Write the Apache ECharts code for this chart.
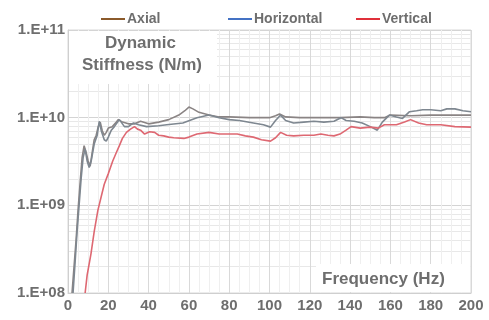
<!DOCTYPE html>
<html>
<head>
<meta charset="utf-8">
<script src="https://cdn.jsdelivr.net/npm/echarts@6/dist/echarts.min.js"></script>
<style>
  html, body { margin: 0; padding: 0; background: #fff; }
  #chart { width: 489px; height: 320px; }
</style>
</head>
<body>
<div id="chart"></div>
<script>
// 频率 (Hz) 与动刚度 (N/m)
const axialFreq = [2, 3, 4, 5, 6, 7, 8, 9, 10, 11, 12, 13, 14, 15, 16, 17, 18, 19, 20, 22,
  24, 25, 27, 30, 33, 36, 40, 45, 50, 55, 58, 60, 62, 65, 70, 75, 80, 90, 100, 103,
  105, 108, 115, 125, 135, 145, 152, 157, 160, 170, 180, 190, 200];
const axialVal = [1.0e8, 2.0e8, 4.0e8, 8.9e8, 1.8e9, 3.5e9, 4.8e9, 4.0e9, 3.2e9, 2.8e9,
  4.0e9, 5.6e9, 6.3e9, 7.9e9, 8.9e9, 7.1e9, 6.3e9, 6.8e9, 7.6e9, 7.9e9,
  8.9e9, 9.5e9, 8.9e9, 8.5e9, 8.5e9, 9.1e9, 8.5e9, 8.9e9, 9.5e9, 1.07e10,
  1.2e10, 1.32e10, 1.26e10, 1.15e10, 1.07e10, 1.02e10, 1.02e10, 1.0e10, 1.0e10, 1.05e10,
  1.1e10, 1.02e10, 1.0e10, 1.0e10, 1.0e10, 1.02e10, 1.0e10, 1.0e10, 1.07e10, 1.05e10,
  1.07e10, 1.07e10, 1.07e10];

const horizFreq = [2.5, 3.5, 4.5, 5.5, 6.5, 7.5, 8.5, 9.5, 10.5, 11.5, 13, 14.5, 15.5, 16.5, 18, 19, 20, 21.5, 23, 25.5,
  28, 30, 32.5, 35, 39, 45, 49, 57, 64, 70, 75, 80, 85, 92, 97, 100.5, 103, 105.5, 108, 112,
  117, 122, 127, 132, 135.5, 138, 142, 146, 150, 153.5, 156, 159.5, 163, 166, 169.5, 173, 176, 180, 185, 188,
  192, 196, 200];
const horizVal = [1.0e8, 2.2e8, 5.0e8, 1.0e9, 2.0e9, 3.5e9, 4.4e9, 3.2e9, 2.7e9, 3.2e9,
  5.0e9, 6.3e9, 9.1e9, 7.1e9, 5.6e9, 5.4e9, 6.0e9, 7.2e9, 7.9e9, 9.5e9,
  7.9e9, 7.9e9, 8.7e9, 8.3e9, 7.9e9, 8.1e9, 8.3e9, 8.7e9, 1.0e10, 1.07e10,
  1.0e10, 9.5e9, 9.3e9, 8.7e9, 8.3e9, 7.8e9, 9.3e9, 1.07e10, 9.3e9, 8.7e9,
  8.9e9, 9.1e9, 8.9e9, 9.1e9, 1.0e10, 9.3e9, 9.1e9, 8.7e9, 7.9e9, 7.2e9,
  8.9e9, 1.07e10, 1.02e10, 9.8e9, 1.17e10, 1.2e10, 1.23e10, 1.23e10, 1.2e10, 1.26e10,
  1.26e10, 1.2e10, 1.17e10];

const vertFreq = [8.5, 9.5, 11.4, 13, 14.8, 16.5, 18, 20, 22.2, 24, 25.5, 27, 29, 31, 33, 34.5, 36, 38, 40.5, 43,
  45, 47.5, 50, 52.5, 57.5, 60, 64, 70, 75, 80, 84, 88, 92, 96, 100.5, 103, 105.5, 108.5, 112, 117,
  122, 125.5, 129, 132, 135, 138, 140.5, 145, 150, 154, 157, 163, 167, 170, 174, 178, 185, 192, 200];
const vertVal = [1.0e8, 1.6e8, 2.8e8, 5.0e8, 8.7e8, 1.26e9, 1.74e9, 2.3e9, 3.2e9, 4.0e9,
  4.8e9, 5.8e9, 6.8e9, 7.4e9, 7.9e9, 7.4e9, 7.2e9, 6.5e9, 6.9e9, 6.8e9,
  6.3e9, 6.2e9, 6.0e9, 5.9e9, 5.8e9, 6.0e9, 6.5e9, 6.8e9, 6.5e9, 6.5e9,
  6.5e9, 6.2e9, 6.0e9, 5.6e9, 5.4e9, 5.9e9, 6.8e9, 6.3e9, 6.2e9, 6.3e9,
  6.3e9, 6.5e9, 6.3e9, 6.2e9, 6.5e9, 7.2e9, 7.9e9, 7.6e9, 7.8e9, 7.6e9,
  8.3e9, 8.3e9, 8.9e9, 9.5e9, 8.7e9, 8.3e9, 8.3e9, 7.9e9, 7.8e9];

const xTicks = { min: 0, max: 200, interval: 20 };
const yTicks = { min: 1e8, max: 1e11 };

const textColor = '#6e6e6e';
const font = 'Liberation Sans, Arial, sans-serif';

function pairs(xs, ys) {
  return xs.map((x, i) => [x, ys[i]]);
}

// 每个图例单独定位（间距不均匀）
function legendAt(left, name, color) {
  return {
    left: left,
    top: 7,
    icon: 'rect',
    itemWidth: 24,
    itemHeight: 2,
    itemGap: 0,
    selectedMode: false,
    textStyle: { fontSize: 14, fontWeight: 'bold', color: textColor, fontFamily: font, padding: [0, 0, 0, -3] },
    data: [{ name: name, itemStyle: { color: color } }],
  };
}

const chart = echarts.init(document.getElementById('chart'));

const option = {
  animation: false,
  backgroundColor: '#fff',
  legend: [
    legendAt(96, 'Axial', '#8B5A2B'),
    legendAt(223, 'Horizontal', '#4472C4'),
    legendAt(351, 'Vertical', '#E0303A'),
  ],
  grid: {
    left: 68,
    right: 18,
    top: 30,
    bottom: 27,
    show: true,
    borderColor: '#d8d8d8',
    borderWidth: 1,
  },
  xAxis: {
    type: 'value',
    min: xTicks.min,
    max: xTicks.max,
    interval: xTicks.interval,
    axisLine: { show: true, lineStyle: { color: '#cfcfcf' } },
    axisTick: { show: false },
    axisLabel: { fontSize: 15, fontWeight: 'bold', color: textColor, fontFamily: font, margin: 5 },
    splitLine: { show: true, lineStyle: { color: '#d9d9d9', width: 1 } },
    minorTick: { show: false, splitNumber: 4 },
    minorSplitLine: { show: true, lineStyle: { color: '#efefef', width: 1 } },
  },
  yAxis: {
    type: 'log',
    logBase: 10,
    min: yTicks.min,
    max: yTicks.max,
    axisLine: { show: true, lineStyle: { color: '#cfcfcf' } },
    axisTick: { show: false },
    axisLabel: {
      fontSize: 15,
      fontWeight: 'bold',
      color: textColor,
      fontFamily: font,
      margin: 3,
      formatter: function(v) {
        const e = Math.round(Math.log10(v));
        return '1.E+' + (e < 10 ? '0' + e : e);
      },
    },
    splitLine: { show: true, lineStyle: { color: '#d4d4d4', width: 1 } },
    // 对数次刻度 2..9
    minorTick: { show: false, splitNumber: 9 },
    minorSplitLine: { show: true, lineStyle: { color: '#e8e8e8', width: 1 } },
  },
  series: [
    {
      name: 'Axial',
      type: 'line',
      data: pairs(axialFreq, axialVal),
      showSymbol: false,
      z: 5,
      lineStyle: { color: '#8a8484', width: 1.6 },
      itemStyle: { color: '#8B5A2B' },
    },
    {
      name: 'Horizontal',
      type: 'line',
      data: pairs(horizFreq, horizVal),
      showSymbol: false,
      z: 5,
      lineStyle: { color: '#7e8790', width: 1.6 },
      itemStyle: { color: '#4472C4' },
    },
    {
      name: 'Vertical',
      type: 'line',
      data: pairs(vertFreq, vertVal),
      showSymbol: false,
      z: 5,
      lineStyle: { color: '#de6872', width: 1.6 },
      itemStyle: { color: '#E0303A' },
    },
  ],
  graphic: [
    { type: 'rect', left: 69, top: 31, shape: { width: 148, height: 53 }, style: { fill: '#fff' }, z: 10 },
    {
      type: 'text', left: 105, top: 35, z: 11,
      style: { text: 'Dynamic', fill: textColor, font: 'bold 17px ' + font },
    },
    {
      type: 'text', left: 82, top: 57, z: 11,
      style: { text: 'Stiffness (N/m)', fill: textColor, font: 'bold 17px ' + font },
    },
    { type: 'rect', left: 316, top: 264, shape: { width: 154, height: 28 }, style: { fill: '#fff' }, z: 10 },
    {
      type: 'text', left: 322, top: 271, z: 11,
      style: { text: 'Frequency (Hz)', fill: textColor, font: 'bold 17px ' + font },
    },
  ],
};

chart.setOption(option);
</script>
</body>
</html>
